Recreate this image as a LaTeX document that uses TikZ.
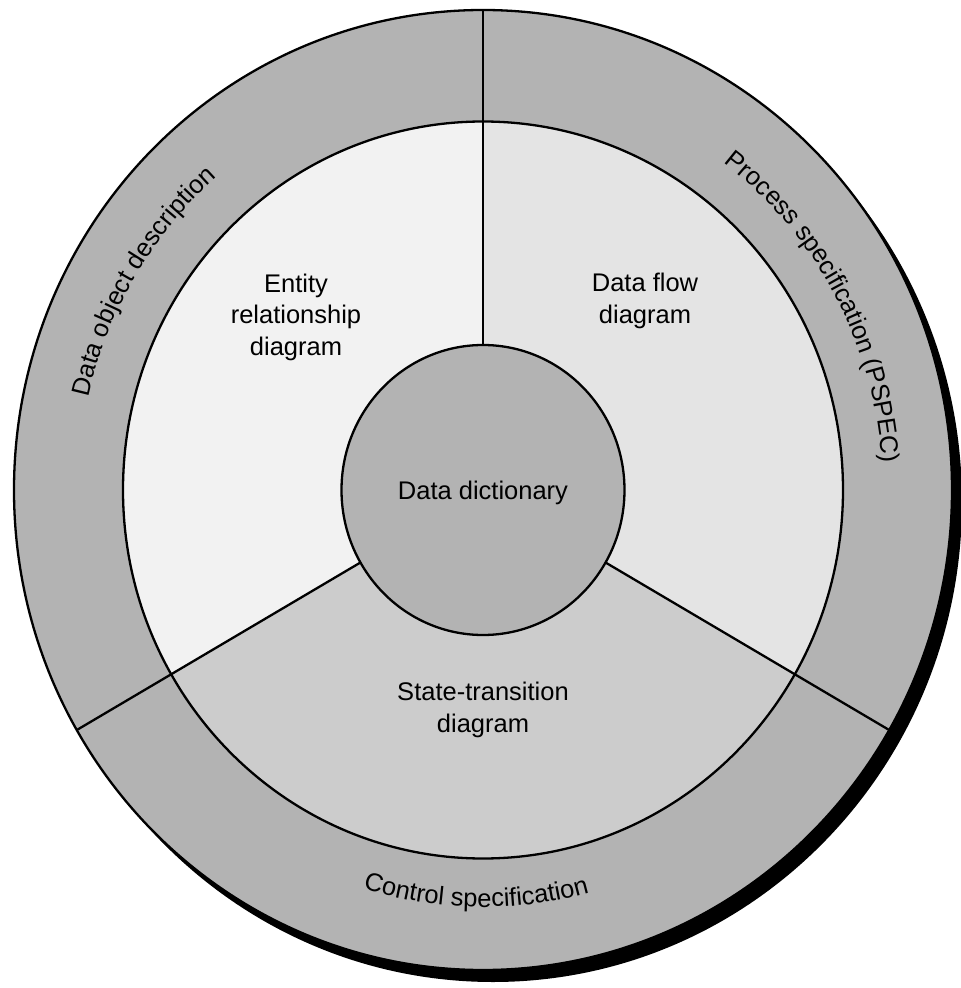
\documentclass[tikz,border=0pt]{standalone}
\usepackage{fontspec}
\setmainfont{Liberation Sans}
\usetikzlibrary{decorations.text}
\definecolor{ringgray}{HTML}{B3B3B3}
\definecolor{ergray}{HTML}{F2F2F2}
\definecolor{dfdgray}{HTML}{E4E4E4}
\definecolor{stgray}{HTML}{CCCCCC}
\begin{document}
\begin{tikzpicture}[x=1pt,y=1pt,
  outline/.style={draw=black, line width=2.3pt},
  divider/.style={draw=black, line width=2.3pt},
  lbl/.style={font=\fontsize{25.5pt}{31.5pt}\selectfont, align=center, text=black, inner sep=0pt},
  ringtext/.style={decorate, decoration={text along path, text align=center, text={#1}}}
]
\useasboundingbox (-483,-498) rectangle (478,490);
% shadow
\fill[black] (10,-12) ellipse [x radius=469pt, y radius=480pt];
% outer ring
\fill[ringgray] (0,0) ellipse [x radius=469pt, y radius=480pt];
\draw[outline] (0,0) ellipse [x radius=469pt, y radius=480pt];
% sectors
\fill[ergray] (0,0) -- (90:360pt and 368.5pt) arc[start angle=90, end angle=210, x radius=360pt, y radius=368.5pt] -- cycle;
\fill[dfdgray] (0,0) -- (-30:360pt and 368.5pt) arc[start angle=-30, end angle=90, x radius=360pt, y radius=368.5pt] -- cycle;
\fill[stgray] (0,0) -- (210:360pt and 368.5pt) arc[start angle=210, end angle=330, x radius=360pt, y radius=368.5pt] -- cycle;
\draw[outline] (0,0) ellipse [x radius=360pt, y radius=368.5pt];
% named points for dividers
\coordinate (otop) at (90:469pt and 480pt);
\coordinate (itop) at (90:141.5pt and 145pt);
\coordinate (oleft) at (210:469pt and 480pt);
\coordinate (ileft) at (210:141.5pt and 145pt);
\coordinate (oright) at (330:469pt and 480pt);
\coordinate (iright) at (330:141.5pt and 145pt);
\draw[divider] (otop) -- (itop);
\draw[divider] (ileft) -- (oleft);
\draw[divider] (iright) -- (oright);
% centre circle
\fill[ringgray] (0,0) ellipse [x radius=141.5pt, y radius=145pt];
\draw[outline] (0,0) ellipse [x radius=141.5pt, y radius=145pt];
% labels
\node[lbl] (dd) at (0,-3) {Data dictionary};
\node[lbl] (erd) at (-187,173) {Entity\\relationship\\diagram};
\node[lbl] (dfd) at (162,189) {Data flow\\diagram};
\node[lbl] (std) at (0,-220) {State-transition\\diagram};
% curved ring texts
\path[ringtext={|\fontsize{25.5pt}{30pt}\selectfont|Data object description}]
  (179:405pt and 415pt) arc[start angle=179, end angle=119, x radius=405pt, y radius=415pt];
\path[ringtext={|\fontsize{25.5pt}{30pt}\selectfont|Process specification (PSPEC)}]
  (64:400pt and 410pt) arc[start angle=64, end angle=-7, x radius=400pt, y radius=410pt];
\path[ringtext={|\fontsize{25.5pt}{30pt}\selectfont|Control specification}]
  (239:407pt and 417pt) arc[start angle=239, end angle=299, x radius=407pt, y radius=417pt];
\end{tikzpicture}
\end{document}
